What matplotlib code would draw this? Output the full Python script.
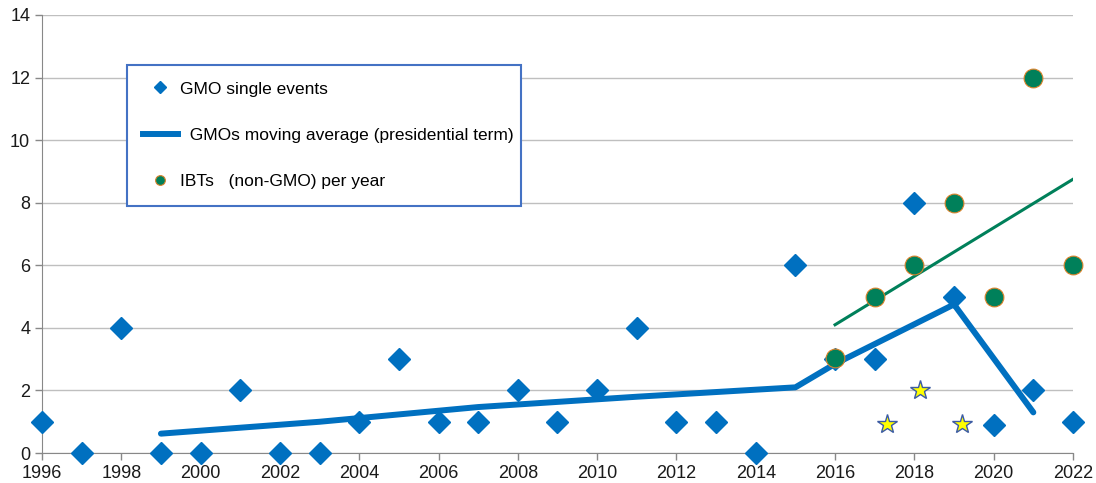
import numpy as np
import matplotlib.pyplot as plt
from matplotlib.lines import Line2D

plt.rcParams['font.family'] = ['Liberation Sans', 'DejaVu Sans']

# GMO single events per year
gmo_years = np.arange(1996, 2023)
gmo_events = [1, 0, 4, 0, 0, 2, 0, 0, 1, 3, 1, 1, 2, 1, 2, 4, 1, 1, 0, 6,
              3, 3, 8, 5, 0.9, 2, 1]

# moving average over presidential terms
avg_years = [1999, 2003, 2007, 2011, 2015, 2016, 2019, 2021]
avg_values = [0.62, 1.0, 1.47, 1.8, 2.1, 2.85, 4.75, 1.3]

# IBTs (non-GMO) per year
ibt_years = [2016, 2017, 2018, 2019, 2020, 2021, 2022]
ibt_values = [3.05, 5, 6, 8, 5, 12, 6]

# IBT trend line
trend_years = [2016, 2022]
trend_values = [4.1, 8.75]

# star markers
star_x = [2017.3, 2018.15, 2019.2]
star_y = [0.93, 2.0, 0.93]

blue = '#0070C0'
green = '#00805A'

fig = plt.figure(figsize=(10.96, 4.83), dpi=100)
ax = fig.add_axes([0.0383, 0.062, 0.9407, 0.907])

ax.plot(gmo_years, gmo_events, linestyle='none', marker='D', markersize=11.5,
        color=blue, zorder=3, clip_on=False)
ax.plot(avg_years, avg_values, color=blue, linewidth=4.3,
        solid_capstyle='round', zorder=4)
ax.plot(trend_years, trend_values, color=green, linewidth=2.2, zorder=4)
ax.plot(ibt_years, ibt_values, linestyle='none', marker='o', markersize=13.5,
        markerfacecolor=green, markeredgecolor='#D9822B', markeredgewidth=0.8,
        zorder=5, clip_on=False)
ax.plot(star_x, star_y, linestyle='none', marker='*', markersize=15,
        markerfacecolor='#FFFF00', markeredgecolor='#3B5BA5',
        markeredgewidth=1.0, zorder=6)

ax.set_xlim(1996, 2022)
ax.set_ylim(0, 14)
ax.set_xticks(np.arange(1996, 2023, 2))
ax.set_yticks(np.arange(0, 15, 2))
ax.tick_params(labelsize=13, colors='#888888', labelcolor='#1A1A1A',
               length=5, width=1)
ax.grid(axis='y', color='#BFBFBF', linewidth=1)
ax.set_axisbelow(True)
for s in ['top', 'right']:
    ax.spines[s].set_visible(False)
ax.spines['left'].set_color('#888888')
ax.spines['bottom'].set_color('#888888')

handles = [
    Line2D([], [], linestyle='none', marker='D', markersize=6, color=blue),
    Line2D([], [], color=blue, linewidth=4.3),
    Line2D([], [], linestyle='none', marker='o', markersize=7,
           markerfacecolor=green, markeredgecolor='#D9822B',
           markeredgewidth=0.8),
]
labels = ['GMO single events', '  GMOs moving average (presidential term)',
          'IBTs   (non-GMO) per year']
leg = ax.legend(handles, labels, loc='upper left',
                bbox_to_anchor=(0.082, 0.317, 0.383, 0.569), mode='expand',
                fontsize=12.5, labelspacing=1.8, handlelength=2.0,
                handletextpad=0.15, borderpad=0.95, borderaxespad=0,
                fancybox=False, framealpha=1)
leg.get_frame().set_edgecolor('#4472C4')
leg.get_frame().set_linewidth(1.5)
leg.set_zorder(7)

fig.savefig('out.png', dpi=100)
